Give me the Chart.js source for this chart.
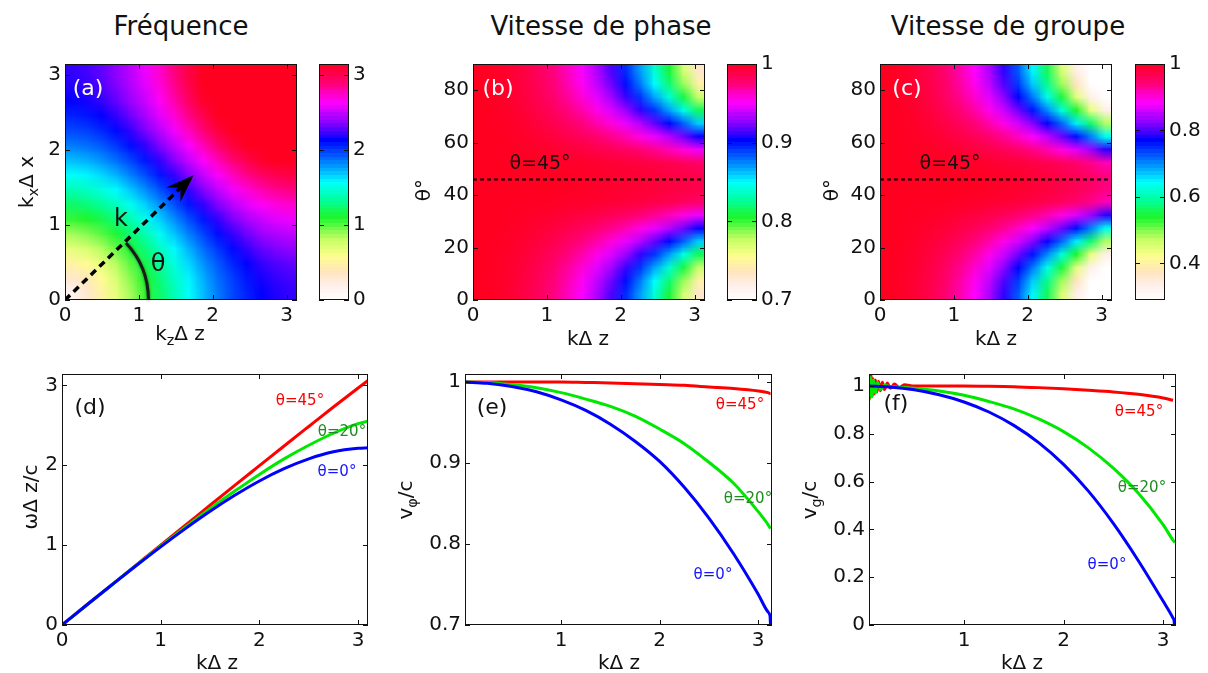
<!DOCTYPE html>
<html lang="fr">
<head>
<meta charset="UTF-8">
<title>Dispersion numérique</title>
<script src="https://cdn.jsdelivr.net/npm/chart.js"></script>
<style>
  body { margin: 0; background: #fff; font-family: "DejaVu Sans", sans-serif; }
  #fig { position: relative; width: 1208px; height: 673px; overflow: hidden; }
  canvas { position: absolute; }
  .t { position: absolute; transform: translate(-50%, -50%); white-space: nowrap; line-height: 1; color: #111; z-index: 5; }
  .rot { transform: translate(-50%, -50%) rotate(-90deg); }
  .title { font-size: 26px; }
  .ax { font-size: 20px; }
  .lab { font-size: 22px; }
  .cur { font-size: 15px; }
  sub { font-size: 0.72em; vertical-align: -0.35em; line-height: 0; }
</style>
</head>
<body>
<div id="fig">
  <div class="t title" style="left:181px;top:26px">Fréquence</div>
  <div class="t title" style="left:601px;top:26px">Vitesse de phase</div>
  <div class="t title" style="left:1008px;top:26px">Vitesse de groupe</div>

  <div class="t ax" style="left:180px;top:333px">k<sub>z</sub>Δ z</div>
  <div class="t ax rot" style="left:26px;top:182px">k<sub>x</sub>Δ x</div>
  <div class="t ax" style="left:588px;top:338px">kΔ z</div>
  <div class="t ax rot" style="left:423px;top:190px">θ°</div>
  <div class="t ax" style="left:996px;top:338px">kΔ z</div>
  <div class="t ax rot" style="left:831px;top:190px">θ°</div>

  <div class="t ax" style="left:217px;top:662px">kΔ z</div>
  <div class="t ax rot" style="left:30px;top:497px">ωΔ z/c</div>
  <div class="t ax" style="left:619px;top:662px">kΔ z</div>
  <div class="t ax rot" style="left:405px;top:500px">v<sub>φ</sub>/c</div>
  <div class="t ax" style="left:1022px;top:662px">kΔ z</div>
  <div class="t ax rot" style="left:809px;top:500px">v<sub>g</sub>/c</div>

  <div class="t lab" style="left:88px;top:88px;color:#fff">(a)</div>
  <div class="t lab" style="left:498px;top:88px;color:#fff">(b)</div>
  <div class="t lab" style="left:907px;top:88px;color:#fff">(c)</div>
  <div class="t lab" style="left:90px;top:407px">(d)</div>
  <div class="t lab" style="left:492px;top:407px">(e)</div>
  <div class="t lab" style="left:896px;top:403px">(f)</div>

  <div class="t" style="left:121px;top:218px;font-size:24px">k</div>
  <div class="t" style="left:158px;top:263px;font-size:24px">θ</div>
  <div class="t" style="left:540px;top:162px;font-size:19px">θ=45°</div>
  <div class="t" style="left:950px;top:162px;font-size:19px">θ=45°</div>

  <div class="t cur" style="left:300px;top:400px;color:#f00">θ=45°</div>
  <div class="t cur" style="left:342px;top:431px;color:#1e8c1e">θ=20°</div>
  <div class="t cur" style="left:337px;top:471px;color:#1515ff">θ=0°</div>
  <div class="t cur" style="left:740px;top:404px;color:#f00">θ=45°</div>
  <div class="t cur" style="left:748px;top:498px;color:#1e8c1e">θ=20°</div>
  <div class="t cur" style="left:713px;top:574px;color:#1515ff">θ=0°</div>
  <div class="t cur" style="left:1139px;top:411px;color:#f00">θ=45°</div>
  <div class="t cur" style="left:1142px;top:487px;color:#1e8c1e">θ=20°</div>
  <div class="t cur" style="left:1107px;top:564px;color:#1515ff">θ=0°</div>
</div>

<script>
// ---- tick labels ----
const ticksK = [0, 1, 2, 3];
const ticksK123 = [1, 2, 3];
const ticksTheta = [0, 20, 40, 60, 80];
const ticksCbPhase = [0.7, 0.8, 0.9, 1];
const ticksCbGroup = [0.4, 0.6, 0.8, 1];
const ticksVphi = [0.7, 0.8, 0.9, 1];
const ticksVg = [0, 0.2, 0.4, 0.6, 0.8, 1];

// ---- (a) omega*dz/c, rows = kx cells (bottom to top), cols = kz cells (16 x 16 over 0..pi) ----
const freqGrid = [
  [0.14,0.31,0.50,0.69,0.87,1.06,1.23,1.40,1.56,1.71,1.85,1.97,2.06,2.14,2.19,2.22],
  [0.31,0.42,0.57,0.74,0.92,1.10,1.27,1.44,1.59,1.74,1.88,1.99,2.09,2.17,2.22,2.25],
  [0.50,0.57,0.69,0.84,1.00,1.17,1.34,1.50,1.65,1.80,1.93,2.05,2.14,2.22,2.27,2.30],
  [0.69,0.74,0.84,0.97,1.12,1.27,1.43,1.58,1.73,1.88,2.01,2.12,2.22,2.30,2.35,2.38],
  [0.87,0.92,1.00,1.12,1.25,1.39,1.54,1.69,1.84,1.98,2.11,2.22,2.32,2.40,2.45,2.48],
  [1.06,1.10,1.17,1.27,1.39,1.53,1.67,1.81,1.96,2.09,2.22,2.34,2.43,2.51,2.57,2.60],
  [1.23,1.27,1.34,1.43,1.54,1.67,1.80,1.95,2.09,2.22,2.35,2.47,2.57,2.65,2.70,2.73],
  [1.40,1.44,1.50,1.58,1.69,1.81,1.95,2.08,2.22,2.36,2.49,2.61,2.71,2.79,2.85,2.88],
  [1.56,1.59,1.65,1.73,1.84,1.96,2.09,2.22,2.36,2.50,2.63,2.75,2.86,2.95,3.01,3.04],
  [1.71,1.74,1.80,1.88,1.98,2.09,2.22,2.36,2.50,2.64,2.77,2.90,3.01,3.11,3.14,3.14],
  [1.85,1.88,1.93,2.01,2.11,2.22,2.35,2.49,2.63,2.77,2.92,3.05,3.14,3.14,3.14,3.14],
  [1.97,1.99,2.05,2.12,2.22,2.34,2.47,2.61,2.75,2.90,3.05,3.14,3.14,3.14,3.14,3.14],
  [2.06,2.09,2.14,2.22,2.32,2.43,2.57,2.71,2.86,3.01,3.14,3.14,3.14,3.14,3.14,3.14],
  [2.14,2.17,2.22,2.30,2.40,2.51,2.65,2.79,2.95,3.11,3.14,3.14,3.14,3.14,3.14,3.14],
  [2.19,2.22,2.27,2.35,2.45,2.57,2.70,2.85,3.01,3.14,3.14,3.14,3.14,3.14,3.14,3.14],
  [2.22,2.25,2.30,2.38,2.48,2.60,2.73,2.88,3.04,3.14,3.14,3.14,3.14,3.14,3.14,3.14]
];

// ---- (b) v_phi/c, rows = theta cells of 5 deg (bottom to top), cols = k cells (16 over 0..pi) ----
const phaseGrid = [
  [.9998,.9982,.9950,.9902,.9837,.9749,.9636,.9508,.9346,.9165,.8948,.8695,.8407,.8079,.7713,.7308],
  [.9998,.9983,.9953,.9908,.9846,.9764,.9658,.9538,.9386,.9219,.9015,.8773,.8504,.8194,.7847,.7463],
  [.9998,.9985,.9959,.9919,.9861,.9790,.9698,.9592,.9461,.9313,.9133,.8924,.8680,.8409,.8099,.7754],
  [.9999,.9988,.9966,.9934,.9888,.9830,.9752,.9667,.9561,.9440,.9292,.9123,.8924,.8696,.8438,.8145],
  [.9999,.9991,.9975,.9951,.9917,.9872,.9815,.9750,.9671,.9583,.9475,.9351,.9199,.9024,.8826,.8597],
  [.9999,.9994,.9983,.9968,.9944,.9915,.9877,.9837,.9784,.9724,.9656,.9570,.9472,.9356,.9218,.9060],
  [1.000,.9997,.9991,.9982,.9971,.9953,.9933,.9910,.9884,.9848,.9814,.9768,.9712,.9647,.9572,.9478],
  [1.000,.9999,.9997,.9993,.9989,.9982,.9971,.9967,.9958,.9944,.9930,.9913,.9890,.9868,.9837,.9803],
  [1.000,1.000,1.000,1.000,1.000,.9995,.9990,.9980,.9970,.9960,.9950,.9940,.9930,.9910,.9900,.9880],
  [1.000,1.000,1.000,1.000,1.000,.9995,.9990,.9980,.9970,.9960,.9950,.9940,.9930,.9910,.9900,.9880],
  [1.000,.9999,.9997,.9993,.9989,.9982,.9971,.9967,.9958,.9944,.9930,.9913,.9890,.9868,.9837,.9803],
  [1.000,.9997,.9991,.9982,.9971,.9953,.9933,.9910,.9884,.9848,.9814,.9768,.9712,.9647,.9572,.9478],
  [.9999,.9994,.9983,.9968,.9944,.9915,.9877,.9837,.9784,.9724,.9656,.9570,.9472,.9356,.9218,.9060],
  [.9999,.9991,.9975,.9951,.9917,.9872,.9815,.9750,.9671,.9583,.9475,.9351,.9199,.9024,.8826,.8597],
  [.9999,.9988,.9966,.9934,.9888,.9830,.9752,.9667,.9561,.9440,.9292,.9123,.8924,.8696,.8438,.8145],
  [.9998,.9985,.9959,.9919,.9861,.9790,.9698,.9592,.9461,.9313,.9133,.8924,.8680,.8409,.8099,.7754],
  [.9998,.9983,.9953,.9908,.9846,.9764,.9658,.9538,.9386,.9219,.9015,.8773,.8504,.8194,.7847,.7463],
  [.9998,.9982,.9950,.9902,.9837,.9749,.9636,.9508,.9346,.9165,.8948,.8695,.8407,.8079,.7713,.7308]
];

// ---- (c) v_g/c, same cells ----
const groupGrid = [
  [.9994,.9945,.9847,.9695,.9483,.9207,.8867,.8430,.7903,.7259,.6489,.5595,.4567,.3378,.2118,.0757],
  [.9994,.9949,.9859,.9715,.9514,.9250,.8933,.8526,.8031,.7426,.6703,.5856,.4885,.3752,.2542,.1229],
  [.9995,.9955,.9876,.9748,.9569,.9341,.9064,.8705,.8270,.7740,.7103,.6349,.5474,.4461,.3336,.2120],
  [.9996,.9964,.9899,.9795,.9650,.9465,.9237,.8946,.8590,.8156,.7631,.7015,.6268,.5406,.4431,.3339],
  [.9997,.9973,.9925,.9848,.9742,.9605,.9434,.9219,.8956,.8633,.8238,.7766,.7197,.6525,.5712,.4797],
  [.9998,.9982,.9950,.9900,.9830,.9740,.9630,.9487,.9317,.9104,.8843,.8525,.8140,.7651,.7064,.6356],
  [.9999,.9990,.9973,.9947,.9908,.9860,.9798,.9722,.9628,.9516,.9370,.9194,.8979,.8694,.8345,.7890],
  [1.000,.9996,.9990,.9980,.9965,.9945,.9929,.9896,.9860,.9818,.9763,.9698,.9609,.9502,.9360,.9161],
  [1.000,1.000,1.000,1.000,1.000,.9990,.9980,.9960,.9930,.9900,.9850,.9800,.9730,.9650,.9550,.9400],
  [1.000,1.000,1.000,1.000,1.000,.9990,.9980,.9960,.9930,.9900,.9850,.9800,.9730,.9650,.9550,.9400],
  [1.000,.9996,.9990,.9980,.9965,.9945,.9929,.9896,.9860,.9818,.9763,.9698,.9609,.9502,.9360,.9161],
  [.9999,.9990,.9973,.9947,.9908,.9860,.9798,.9722,.9628,.9516,.9370,.9194,.8979,.8694,.8345,.7890],
  [.9998,.9982,.9950,.9900,.9830,.9740,.9630,.9487,.9317,.9104,.8843,.8525,.8140,.7651,.7064,.6356],
  [.9997,.9973,.9925,.9848,.9742,.9605,.9434,.9219,.8956,.8633,.8238,.7766,.7197,.6525,.5712,.4797],
  [.9996,.9964,.9899,.9795,.9650,.9465,.9237,.8946,.8590,.8156,.7631,.7015,.6268,.5406,.4431,.3339],
  [.9995,.9955,.9876,.9748,.9569,.9341,.9064,.8705,.8270,.7740,.7103,.6349,.5474,.4461,.3336,.2120],
  [.9994,.9949,.9859,.9715,.9514,.9250,.8933,.8526,.8031,.7426,.6703,.5856,.4885,.3752,.2542,.1229],
  [.9994,.9945,.9847,.9695,.9483,.9207,.8867,.8430,.7903,.7259,.6489,.5595,.4567,.3378,.2118,.0757]
];

// ---- (d) omega dz / c ----
const kD = [0, 0.25, 0.5, 0.75, 1, 1.25, 1.5, 1.75, 2, 2.25, 2.5, 2.75, 3, 3.1];
const omega45 = [0, 0.25, 0.5, 0.75, 1.0, 1.249, 1.499, 1.747, 1.994, 2.241, 2.485, 2.728, 2.967, 3.06];
const omega20 = [0, 0.25, 0.498, 0.745, 0.987, 1.224, 1.455, 1.676, 1.885, 2.079, 2.25, 2.40, 2.52, 2.55];
const omega0 = [0, 0.25, 0.497, 0.741, 0.978, 1.206, 1.423, 1.623, 1.803, 1.957, 2.08, 2.168, 2.212, 2.218];

// ---- (e) v_phi / c ----
const kE = [0.025, 0.25, 0.5, 0.75, 1, 1.25, 1.5, 1.75, 2, 2.25, 2.5, 2.75, 3, 3.1, 3.12, 3.125];
const vphi45 = [1, 1, 1, 1, 1, 0.9995, 0.999, 0.998, 0.997, 0.996, 0.994, 0.992, 0.989, 0.987, 0.986, 0.986];
const vphi20 = [1, 0.9996, 0.9968, 0.993, 0.987, 0.979, 0.970, 0.958, 0.942, 0.924, 0.901, 0.875, 0.840, 0.824, 0.820, 0.819];
const vphi0 = [1, 0.9985, 0.9946, 0.988, 0.978, 0.965, 0.948, 0.927, 0.902, 0.870, 0.832, 0.788, 0.738, 0.716, 0.711, 0.70];

// ---- (f) v_g / c ----
const kF45 = [0.045, 0.055, 0.065, 0.075, 0.085, 0.095, 0.11, 0.125, 0.14, 0.16, 0.18, 0.2, 0.23, 0.26, 0.3, 0.35, 0.4, 0.5, 0.75, 1, 1.25, 1.5, 1.75, 2, 2.25, 2.5, 2.75, 3, 3.1];
const vg45 = [1.04, 0.95, 1.045, 0.96, 1.03, 0.965, 1.025, 0.975, 1.02, 0.98, 1.015, 0.985, 1.012, 0.99, 1.008, 0.994, 1.005, 1.0, 1.0, 1.0, 0.999, 0.997, 0.993, 0.988, 0.982, 0.975, 0.965, 0.95, 0.94];
const kF20 = [0.045, 0.06, 0.075, 0.09, 0.11, 0.13, 0.16, 0.2, 0.25, 0.3, 0.5, 0.75, 1, 1.25, 1.5, 1.75, 2, 2.25, 2.5, 2.75, 3, 3.1, 3.12];
const vg20 = [0.94, 1.035, 0.955, 1.025, 0.97, 1.015, 0.985, 1.003, 0.998, 0.996, 0.990, 0.979, 0.961, 0.935, 0.904, 0.862, 0.809, 0.741, 0.656, 0.552, 0.42, 0.355, 0.345];
const kF0 = [0.045, 0.25, 0.5, 0.75, 1, 1.25, 1.5, 1.75, 2, 2.25, 2.5, 2.75, 3, 3.1, 3.11, 3.115];
const vg0 = [1.0, 0.996, 0.984, 0.963, 0.933, 0.891, 0.835, 0.763, 0.672, 0.560, 0.425, 0.270, 0.100, 0.029, 0.02, 0.0];

// colormap of the figure: white -> yellow -> green -> cyan -> blue -> magenta -> red
const CMAP = [
  [0.00, 255, 255, 255], [0.06, 255, 240, 235], [0.12, 255, 228, 192], [0.19, 255, 255, 140],
  [0.26, 195, 255, 100], [0.35, 30, 245, 45], [0.43, 0, 255, 160], [0.50, 0, 255, 255],
  [0.58, 0, 135, 255], [0.68, 0, 0, 255], [0.76, 150, 0, 255], [0.84, 255, 0, 255],
  [0.92, 255, 0, 120], [1.00, 255, 0, 32]
];
function cmap(t) {
  t = Math.max(0, Math.min(1, t));
  for (let i = 1; i < CMAP.length; i++) {
    if (t <= CMAP[i][0]) {
      const a = CMAP[i - 1], b = CMAP[i], f = (t - a[0]) / (b[0] - a[0]);
      return [0, 1, 2].map(k => Math.round(a[k + 1] + f * (b[k + 1] - a[k + 1])));
    }
  }
  return CMAP[CMAP.length - 1].slice(1);
}

// heat map image, placed with the chart's own scales
const heatPlugin = {
  id: 'heat',
  beforeDatasetsDraw(chart, args, o) {
    if (!o.grid) return;
    const g = o.grid, ny = g.length, nx = g[0].length;
    const off = document.createElement('canvas');
    off.width = nx; off.height = ny;
    const octx = off.getContext('2d');
    const img = octx.createImageData(nx, ny);
    for (let j = 0; j < ny; j++) {
      for (let i = 0; i < nx; i++) {
        const c = cmap((g[j][i] - o.lo) / (o.hi - o.lo));
        const p = ((ny - 1 - j) * nx + i) * 4;
        img.data[p] = c[0]; img.data[p + 1] = c[1]; img.data[p + 2] = c[2]; img.data[p + 3] = 255;
      }
    }
    octx.putImageData(img, 0, 0);
    const ctx = chart.ctx, a = chart.chartArea, xs = chart.scales.x, ys = chart.scales.y;
    const x0 = xs.getPixelForValue(0), x1 = xs.getPixelForValue(o.xMax);
    const y0 = ys.getPixelForValue(o.yMax), y1 = ys.getPixelForValue(0);
    ctx.save();
    ctx.beginPath(); ctx.rect(a.left, a.top, a.width, a.height); ctx.clip();
    ctx.imageSmoothingEnabled = true;
    ctx.imageSmoothingQuality = 'low';
    ctx.drawImage(off, x0, y0, x1 - x0, y1 - y0);
    ctx.restore();
  }
};

// colour bar bands
const cbarPlugin = {
  id: 'cbar',
  beforeDatasetsDraw(chart, args, o) {
    if (o.lo === undefined) return;
    const ctx = chart.ctx, a = chart.chartArea, ys = chart.scales.y, n = 64;
    for (let s = 0; s < n; s++) {
      const c = cmap((s + 0.5) / n);
      const yA = ys.getPixelForValue(o.lo + (o.hi - o.lo) * s / n);
      const yB = ys.getPixelForValue(o.lo + (o.hi - o.lo) * (s + 1) / n);
      ctx.fillStyle = `rgb(${c[0]},${c[1]},${c[2]})`;
      ctx.fillRect(a.left, Math.floor(yB), a.width, Math.ceil(yA) - Math.floor(yB));
    }
  }
};

// arrow head and theta arc of panel (a)
const sketchPlugin = {
  id: 'sketch',
  afterDatasetsDraw(chart, args, o) {
    if (!o.arrow) return;
    const ctx = chart.ctx, xs = chart.scales.x, ys = chart.scales.y;
    const ox = xs.getPixelForValue(0), oy = ys.getPixelForValue(0);
    const tx = xs.getPixelForValue(o.arrow[0]), ty = ys.getPixelForValue(o.arrow[1]);
    ctx.save();
    ctx.translate(tx, ty);
    ctx.rotate(Math.atan2(ty - oy, tx - ox));
    ctx.beginPath();
    ctx.moveTo(0, 0); ctx.lineTo(-28, -10); ctx.lineTo(-18, 0); ctx.lineTo(-28, 10);
    ctx.closePath();
    ctx.fillStyle = '#000';
    ctx.fill();
    ctx.restore();
    const r = xs.getPixelForValue(o.arc[0]) - ox;
    ctx.save();
    ctx.strokeStyle = '#1a1a1a';
    ctx.lineWidth = 3;
    ctx.shadowColor = 'rgba(0,0,0,0.5)';
    ctx.shadowBlur = 3;
    ctx.beginPath();
    ctx.arc(ox, oy, r, -o.arc[1] * Math.PI / 180, 0);
    ctx.stroke();
    ctx.restore();
  }
};

// box around the axes with inward ticks on every side
const boxPlugin = {
  id: 'box',
  afterDraw(chart) {
    const ctx = chart.ctx, a = chart.chartArea, xs = chart.scales.x, ys = chart.scales.y, L = 5;
    ctx.save();
    ctx.strokeStyle = '#111';
    ctx.lineWidth = 1;
    ctx.strokeRect(a.left + 0.5, a.top + 0.5, a.width - 1, a.height - 1);
    ctx.beginPath();
    if (xs && xs.options.display !== false) {
      xs.ticks.forEach(t => {
        const p = Math.round(xs.getPixelForValue(t.value)) + 0.5;
        ctx.moveTo(p, a.bottom); ctx.lineTo(p, a.bottom - L);
        ctx.moveTo(p, a.top); ctx.lineTo(p, a.top + L);
      });
    }
    if (ys && ys.options.display !== false) {
      ys.ticks.forEach(t => {
        const p = Math.round(ys.getPixelForValue(t.value)) + 0.5;
        ctx.moveTo(a.left, p); ctx.lineTo(a.left + L, p);
        ctx.moveTo(a.right, p); ctx.lineTo(a.right - L, p);
      });
    }
    ctx.stroke();
    ctx.restore();
  }
};

Chart.register(heatPlugin, cbarPlugin, sketchPlugin, boxPlugin);
Chart.defaults.font.family = "'DejaVu Sans', sans-serif";
Chart.defaults.color = '#111';
Chart.defaults.animation = false;
Chart.defaults.plugins.legend.display = false;
Chart.defaults.plugins.tooltip.enabled = false;

const fig = document.getElementById('fig');
function mk(L, T, W, H, pl, pt, pr, pb) {
  const c = document.createElement('canvas');
  c.width = W + pl + pr;
  c.height = H + pt + pb;
  c.style.left = (L - pl) + 'px';
  c.style.top = (T - pt) + 'px';
  fig.appendChild(c);
  return c;
}

function linAxis(min, max, ticks, size) {
  return {
    type: 'linear', min, max,
    grid: { display: false, drawTicks: false },
    border: { display: false },
    ticks: {
      font: { size: 20 }, color: '#111', padding: 4, autoSkip: false, maxRotation: 0,
      callback: v => String(+(+v).toFixed(2))
    },
    afterBuildTicks: s => { s.ticks = ticks.map(v => ({ value: v })); },
    afterFit: s => {
      if (s.isHorizontal()) s.height = size; else s.width = size;
      s.paddingTop = 0; s.paddingBottom = 0; s.paddingLeft = 0; s.paddingRight = 0;
    }
  };
}

const PAD = { left: 0, top: 12, right: 14, bottom: 0 };
const PI = Math.PI;

// (a) frequency map
new Chart(mk(65, 64, 232, 236, 60, 12, 14, 40), {
  type: 'scatter',
  data: { datasets: [{
    data: [{ x: 0, y: 0 }, { x: 1.74, y: 1.66 }], showLine: true,
    borderColor: '#000', borderWidth: 3.5, borderDash: [7, 5], pointRadius: 0
  }] },
  options: {
    responsive: false, devicePixelRatio: 1, layout: { padding: PAD },
    scales: { x: linAxis(0, PI, ticksK, 40), y: linAxis(0, PI, ticksK, 60) },
    plugins: {
      heat: { grid: freqGrid, xMax: PI, yMax: PI, lo: 0, hi: PI },
      sketch: { arrow: [1.74, 1.66], arc: [1.13, 43] }
    }
  }
});

// (b) and (c) maps
function thetaMap(L, grid, lo, hi) {
  new Chart(mk(L, 64, 232, 236, 60, 12, 14, 40), {
    type: 'scatter',
    data: { datasets: [{
      data: [{ x: 0, y: 46 }, { x: PI, y: 46 }], showLine: true,
      borderColor: '#000', borderWidth: 2, borderDash: [4, 3], pointRadius: 0
    }] },
    options: {
      responsive: false, devicePixelRatio: 1, layout: { padding: PAD },
      scales: { x: linAxis(0, PI, ticksK, 40), y: linAxis(0, 90, ticksTheta, 60) },
      plugins: { heat: { grid, xMax: PI, yMax: 90, lo, hi } }
    }
  });
}
thetaMap(473, phaseGrid, 0.7, 1);
thetaMap(880, groupGrid, 0.29, 1);

// colour bars
function colorbar(L, lo, hi, ticks) {
  const y = linAxis(lo, hi, ticks, 55);
  y.position = 'right';
  new Chart(mk(L, 64, 30, 236, 1, 12, 55, 12), {
    type: 'scatter',
    data: { datasets: [] },
    options: {
      responsive: false, devicePixelRatio: 1,
      layout: { padding: { left: 1, top: 12, right: 0, bottom: 12 } },
      scales: { x: { type: 'linear', display: false, min: 0, max: 1 }, y },
      plugins: { cbar: { lo, hi } }
    }
  });
}
colorbar(319, 0, PI, ticksK);
colorbar(727, 0.7, 1, ticksCbPhase);
colorbar(1135, 0.29, 1, ticksCbGroup);

// line panels
function lineChart(L, W, xr, xt, yr, yt, series) {
  new Chart(mk(L, 374, W, 251, 60, 12, 14, 40), {
    type: 'line',
    data: { datasets: series.map(s => ({
      data: s.x.map((x, i) => ({ x, y: s.y[i] })),
      borderColor: s.color, borderWidth: 3, pointRadius: 0,
      cubicInterpolationMode: 'monotone', fill: false
    })) },
    options: {
      responsive: false, devicePixelRatio: 1, layout: { padding: PAD },
      scales: { x: linAxis(xr[0], xr[1], xt, 40), y: linAxis(yr[0], yr[1], yt, 60) }
    }
  });
}
lineChart(62, 306, [0, 3.1], ticksK, [0, PI], ticksK, [
  { x: kD, y: omega0, color: '#0000ff' },
  { x: kD, y: omega20, color: '#00e800' },
  { x: kD, y: omega45, color: '#ff0000' }
]);
lineChart(465, 307, [0.025, 3.14], ticksK123, [0.7, 1.01], ticksVphi, [
  { x: kE, y: vphi0, color: '#0000ff' },
  { x: kE, y: vphi20, color: '#00e800' },
  { x: kE, y: vphi45, color: '#ff0000' }
]);
lineChart(869, 307, [0.045, 3.13], ticksK123, [0, 1.05], ticksVg, [
  { x: kF0, y: vg0, color: '#0000ff' },
  { x: kF20, y: vg20, color: '#00e800' },
  { x: kF45, y: vg45, color: '#ff0000' }
]);
</script>
</body>
</html>
